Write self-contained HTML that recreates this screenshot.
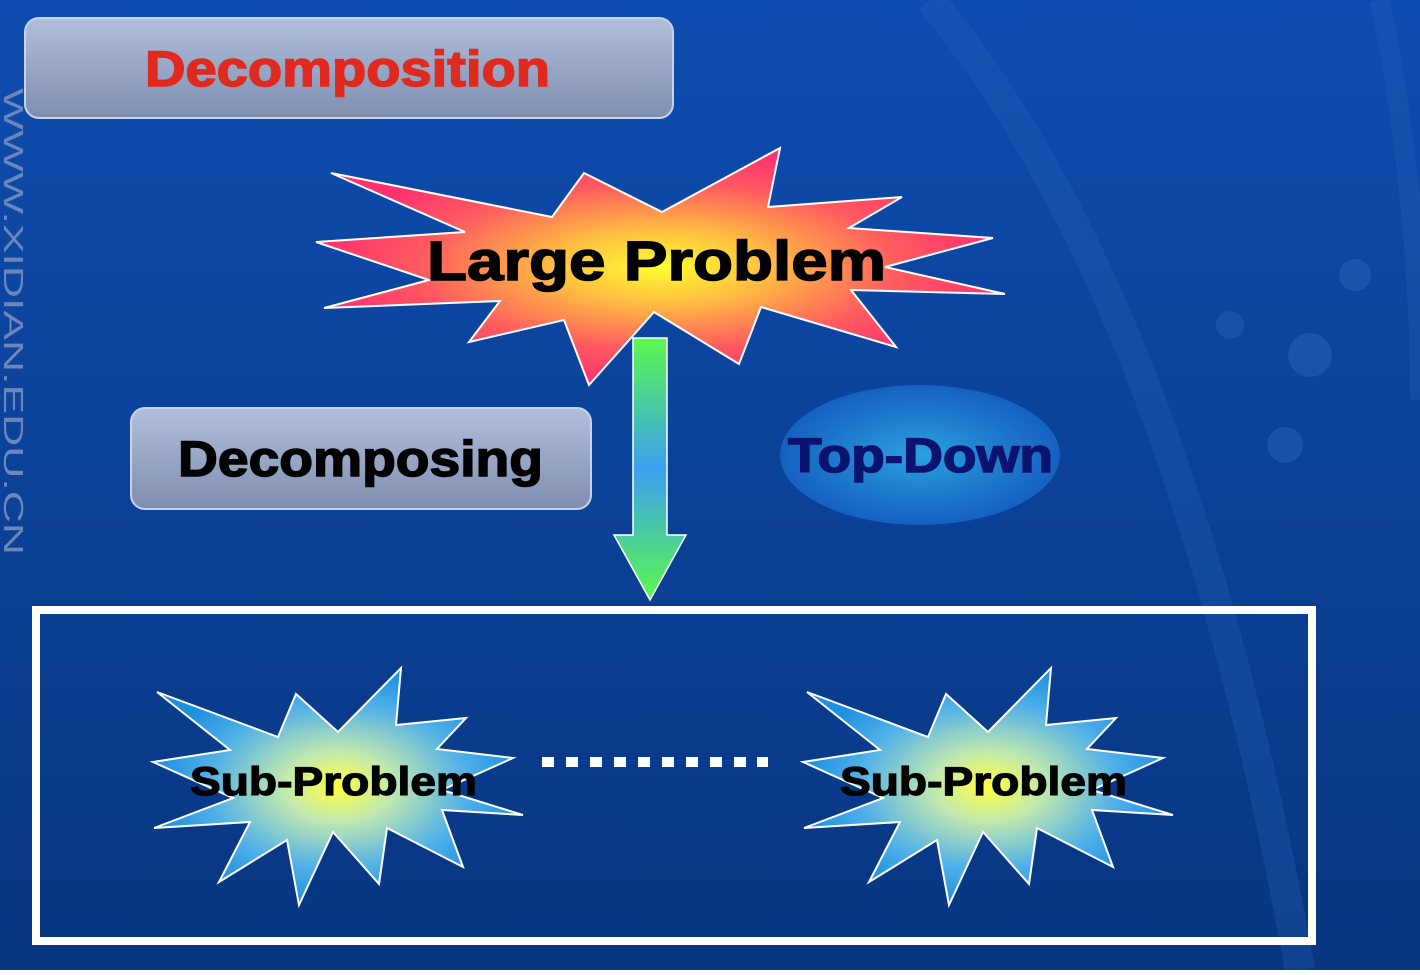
<!DOCTYPE html>
<html><head><style>
body{margin:0;width:1420px;height:970px;overflow:hidden;font-family:"Liberation Sans",Arial,sans-serif;}
</style></head><body>
<svg width="1420" height="970" xmlns="http://www.w3.org/2000/svg">
<defs>
<linearGradient id="bg" x1="0" y1="0" x2="0" y2="1"><stop offset="0" stop-color="#0e4db0"/><stop offset="1" stop-color="#083680"/></linearGradient>
<linearGradient id="box" x1="0" y1="0" x2="0" y2="1"><stop offset="0" stop-color="#b0bfdc"/><stop offset="1" stop-color="#7f8eb0"/></linearGradient>
<radialGradient id="red" cx="0.5" cy="0.5" r="0.5"><stop offset="0" stop-color="#ffff30"/><stop offset="0.3" stop-color="#ffc040"/><stop offset="0.7" stop-color="#ff5a60"/><stop offset="1" stop-color="#ff3070"/></radialGradient>
<radialGradient id="blue" cx="0.5" cy="0.5" r="0.5"><stop offset="0" stop-color="#ffff40"/><stop offset="0.3" stop-color="#c0e8b0"/><stop offset="0.7" stop-color="#50b0e8"/><stop offset="1" stop-color="#1e90e0"/></radialGradient>
<radialGradient id="ell" cx="0.5" cy="0.5" r="0.5"><stop offset="0" stop-color="#2aa0e0"/><stop offset="1" stop-color="#1660c0"/></radialGradient>
<linearGradient id="arr" x1="0" y1="0" x2="0" y2="1"><stop offset="0" stop-color="#5cf84c"/><stop offset="0.5" stop-color="#3aa0f0"/><stop offset="1" stop-color="#5cf84c"/></linearGradient>
</defs>
<rect width="1420" height="970" fill="url(#bg)"/>
<path d="M930 0 Q1180 300 1300 970" stroke="#2a66c0" stroke-width="30" fill="none" opacity="0.25"/>
<path d="M1380 0 Q1420 200 1420 400" stroke="#2a66c0" stroke-width="20" fill="none" opacity="0.25"/>
<circle cx="1310" cy="355" r="22" fill="#2d6cc4" opacity="0.4"/>
<circle cx="1285" cy="445" r="18" fill="#2d6cc4" opacity="0.4"/>
<circle cx="1355" cy="275" r="16" fill="#2d6cc4" opacity="0.4"/>
<circle cx="1230" cy="325" r="14" fill="#2d6cc4" opacity="0.35"/>
<text transform="translate(4,88) rotate(90)" font-size="28" fill="#6a86bc" textLength="467" lengthAdjust="spacingAndGlyphs">WWW.XIDIAN.EDU.CN</text>

<rect x="25" y="18" width="648" height="100" rx="14" fill="url(#box)" stroke="#c8d2e8" stroke-width="2"/>
<text x="145" y="86" font-size="50" font-weight="bold" fill="#e02a1e" stroke="#e02a1e" stroke-width="1.5" textLength="405" lengthAdjust="spacingAndGlyphs">Decomposition</text>

<polygon points="331,173 552,217 584,173 662,212 780,148 768,207 902,197 849,228 993,238 885,267 1005,294 851,290 896,347 761,307 739,364 654,312 589,385 564,320 469,342 500,301 324,308 429,280 316,242 465,232" fill="url(#red)" stroke="#fff" stroke-width="2"/>
<text x="427" y="280" font-size="56" font-weight="bold" fill="#000" stroke="#000" stroke-width="1.5" textLength="459" lengthAdjust="spacingAndGlyphs">Large Problem</text>

<polygon points="633,338 667,338 667,535 686,535 650,600 614,535 633,535" fill="url(#arr)" stroke="#fff" stroke-width="1.5"/>

<rect x="131" y="408" width="460" height="101" rx="14" fill="url(#box)" stroke="#c8d2e8" stroke-width="2"/>
<text x="178" y="476" font-size="50" font-weight="bold" fill="#000" stroke="#000" stroke-width="1.5" textLength="365" lengthAdjust="spacingAndGlyphs">Decomposing</text>

<ellipse cx="920" cy="455" rx="140" ry="70" fill="url(#ell)"/>
<text x="788" y="472" font-size="48" font-weight="bold" fill="#0a1470" stroke="#0a1470" stroke-width="1.5" textLength="265" lengthAdjust="spacingAndGlyphs">Top-Down</text>

<rect x="36" y="610" width="1276" height="331" fill="none" stroke="#fff" stroke-width="8"/>

<g id="s"><polygon points="157,692 278,737 296,694 338,732 401,668 396,725 466,718 437,749 513,758 442,790 523,815 442,810 463,867 387,828 379,884 333,832 299,905 287,840 219,882 250,822 154,828 233,798 153,762 230,750" fill="url(#blue)" stroke="#fff" stroke-width="2"/>
<text x="190" y="795" font-size="40" font-weight="bold" fill="#000" stroke="#000" stroke-width="1.2" textLength="287" lengthAdjust="spacingAndGlyphs">Sub-Problem</text></g>
<use href="#s" transform="translate(650,0)"/>

<g fill="#fff">
<rect x="542" y="757" width="12" height="10"/><rect x="566" y="757" width="12" height="10"/><rect x="590" y="757" width="12" height="10"/><rect x="614" y="757" width="12" height="10"/><rect x="638" y="757" width="12" height="10"/><rect x="662" y="757" width="12" height="10"/><rect x="686" y="757" width="12" height="10"/><rect x="710" y="757" width="12" height="10"/><rect x="734" y="757" width="12" height="10"/><rect x="757" y="757" width="11" height="10"/>
</g>
</svg>
</body></html>
